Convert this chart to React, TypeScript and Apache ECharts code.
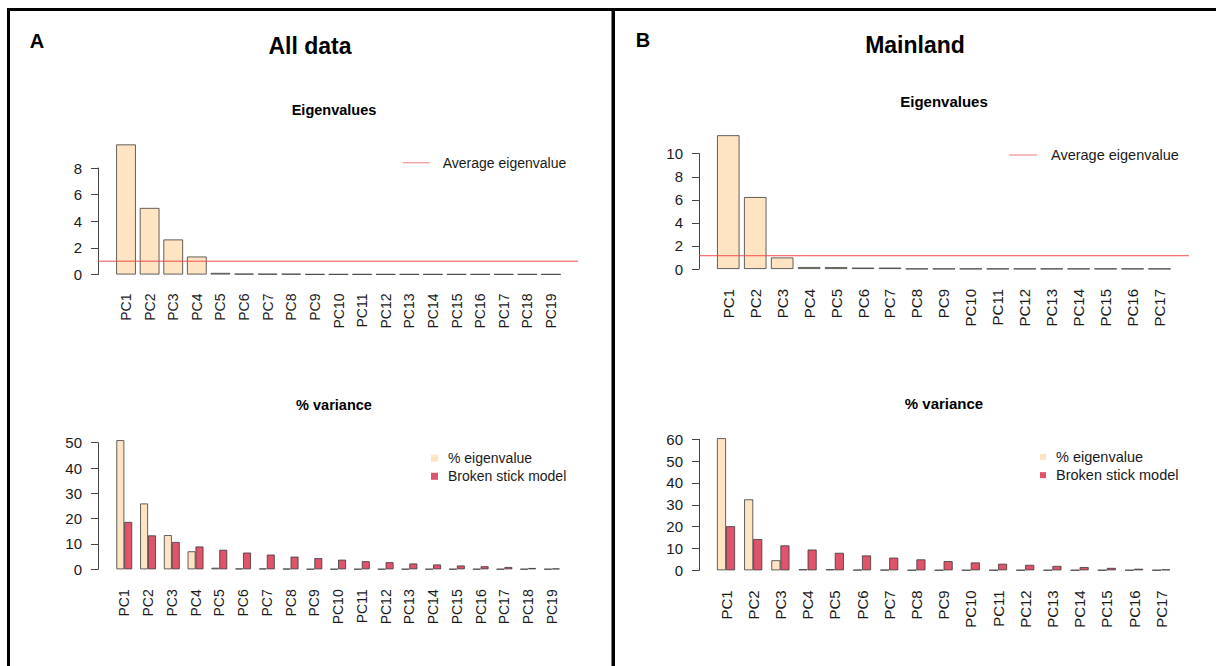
import React, { useEffect, useRef } from 'react';
import * as echarts from 'echarts';

const pcA = ['PC1','PC2','PC3','PC4','PC5','PC6','PC7','PC8','PC9','PC10','PC11','PC12','PC13','PC14','PC15','PC16','PC17','PC18','PC19'];
const eigA = [9.77, 5.0, 2.63, 1.35, 0.12, 0.06, 0.05, 0.05, 0.02, 0.02, 0.02, 0.02, 0.02, 0.02, 0.02, 0.02, 0.02, 0.02, 0.02];
const avgA = 1.0;
const pctA = [51.0, 26.0, 13.5, 7.1, 0.6, 0.3, 0.3, 0.2, 0.1, 0.1, 0.1, 0.1, 0.1, 0.1, 0.1, 0.1, 0.1, 0.1, 0.1];
const bsA = [18.7, 13.4, 10.8, 9.0, 7.7, 6.6, 5.8, 5.0, 4.4, 3.8, 3.2, 2.8, 2.3, 1.9, 1.5, 1.2, 0.9, 0.5, 0.3];

const pcB = ['PC1','PC2','PC3','PC4','PC5','PC6','PC7','PC8','PC9','PC10','PC11','PC12','PC13','PC14','PC15','PC16','PC17'];
const eigB = [11.6, 6.24, 1.0, 0.17, 0.16, 0.12, 0.12, 0.02, 0.02, 0.02, 0.02, 0.02, 0.02, 0.02, 0.02, 0.02, 0.02];
const avgB = 1.15;
const pctB = [60.5, 32.5, 4.6, 0.5, 0.5, 0.2, 0.2, 0.1, 0.1, 0.1, 0.1, 0.1, 0.1, 0.1, 0.1, 0.1, 0.1];
const bsB = [20.2, 14.3, 11.4, 9.5, 8.0, 6.8, 5.8, 5.0, 4.2, 3.6, 3.0, 2.5, 2.0, 1.5, 1.1, 0.7, 0.4];

const FONT = '"Liberation Sans", Arial, Helvetica, sans-serif';
const BISQUE = '#FFE4C4';
const RED = '#DF536B';
const BORDER = '#3a3a3a';
const AVG_LINE = '#F24C4C';
const AVG_LEGEND = '#F3A3AA';

function buildOption() {
  const grid: any[] = [];
  const xAxis: any[] = [];
  const yAxis: any[] = [];
  const series: any[] = [];
  const legend: any[] = [];

  function addChart(cfg: any) {
    const gA = grid.length;
    grid.push({ left: cfg.axisLeft, width: cfg.axisWidth, top: cfg.top, height: cfg.height });
    const gB = grid.length;
    grid.push({ left: cfg.barLeft, width: cfg.barWidth, top: cfg.top, height: cfg.height });
    const xa = xAxis.length;
    xAxis.push({ type: 'value', gridIndex: gA, min: 0, max: 1, show: false });
    xAxis.push({
      type: 'category', gridIndex: gB, data: cfg.cats,
      axisLine: { show: false }, axisTick: { show: false }, splitLine: { show: false },
      axisLabel: { rotate: 90, margin: cfg.labelMargin, fontSize: cfg.fontSize, fontFamily: FONT, color: '#1a1a1a', interval: 0 },
    });
    const ya = yAxis.length;
    yAxis.push({
      type: 'value', gridIndex: gA, min: 0, max: cfg.maxTick, interval: cfg.interval,
      axisLine: { show: true, lineStyle: { color: '#444', width: 1 } },
      axisTick: { show: true, length: 7, lineStyle: { color: '#444' } },
      splitLine: { show: false },
      axisLabel: { margin: 16, fontSize: cfg.tickFont, fontFamily: FONT, color: '#1a1a1a' },
    });
    yAxis.push({ type: 'value', gridIndex: gB, min: 0, max: cfg.maxTick, show: false });

    if (cfg.avg != null) {
      series.push({
        name: 'Average eigenvalue', type: 'line', xAxisIndex: xa, yAxisIndex: ya,
        data: [[0, cfg.avg], [1, cfg.avg]], symbol: 'none',
        lineStyle: { color: AVG_LINE, width: 1 }, itemStyle: { color: AVG_LINE }, silent: true,
      });
    }
    cfg.bars.forEach((b: any) => {
      series.push({
        name: b.name, type: 'bar', xAxisIndex: xa + 1, yAxisIndex: ya + 1,
        data: b.data, clip: false, barWidth: b.barWidth, barGap: '0%',
        itemStyle: { color: b.color, borderColor: BORDER, borderWidth: 0.8 }, silent: true,
      });
    });
    legend.push(cfg.legend);
  }

  addChart({
    cats: pcA, axisLeft: 98, axisWidth: 480, barLeft: 114.2, barWidth: 448.6,
    top: 168, height: 106.5, maxTick: 8, interval: 2, fontSize: 14, tickFont: 15, labelMargin: 19, avg: avgA,
    bars: [{ name: 'Eigenvalue', data: eigA, color: BISQUE, barWidth: '83.3%' }],
    legend: {
      left: 402.7, top: 153.7, padding: 0, itemWidth: 27, itemHeight: 1.5, icon: 'rect',
      data: [{ name: 'Average eigenvalue', itemStyle: { color: AVG_LEGEND, borderWidth: 0 } }],
      textStyle: { fontFamily: FONT, fontSize: 14, color: '#1a1a1a', lineHeight: 18, padding: [0, 0, 0, 8] },
      selectedMode: false,
    },
  });
  addChart({
    cats: pcA, axisLeft: 98, axisWidth: 480, barLeft: 112.4, barWidth: 451.4,
    top: 442.7, height: 126.6, maxTick: 50, interval: 10, fontSize: 14, tickFont: 15, labelMargin: 20,
    bars: [
      { name: '% eigenvalue', data: pctA, color: BISQUE, barWidth: '33.3%' },
      { name: 'Broken stick model', data: bsA, color: RED, barWidth: '33.3%' },
    ],
    legend: {
      left: 431, top: 449.3, padding: 0, orient: 'vertical', itemGap: 0, itemWidth: 7, itemHeight: 7, icon: 'rect',
      data: [
        { name: '% eigenvalue', itemStyle: { color: BISQUE, borderWidth: 0 } },
        { name: 'Broken stick model', itemStyle: { color: RED, borderWidth: 0 } },
      ],
      textStyle: { fontFamily: FONT, fontSize: 14, color: '#1a1a1a', lineHeight: 18, padding: [0, 0, 0, 5] },
      selectedMode: false,
    },
  });
  addChart({
    cats: pcB, axisLeft: 699, axisWidth: 490, barLeft: 714.8, barWidth: 458.2,
    top: 153.7, height: 115.3, maxTick: 10, interval: 2, fontSize: 15, tickFont: 15, labelMargin: 20, avg: avgB,
    bars: [{ name: 'Eigenvalue', data: eigB, color: BISQUE, barWidth: '83.3%' }],
    legend: {
      left: 1009, top: 146, padding: 0, itemWidth: 28, itemHeight: 1.5, icon: 'rect',
      data: [{ name: 'Average eigenvalue', itemStyle: { color: AVG_LEGEND, borderWidth: 0 } }],
      textStyle: { fontFamily: FONT, fontSize: 14.5, color: '#1a1a1a', lineHeight: 18, padding: [0, 0, 0, 9] },
      selectedMode: false,
    },
  });
  addChart({
    cats: pcB, axisLeft: 699, axisWidth: 490, barLeft: 712.4, barWidth: 462.4,
    top: 439.3, height: 131, maxTick: 60, interval: 10, fontSize: 15, tickFont: 15, labelMargin: 20,
    bars: [
      { name: '% eigenvalue', data: pctB, color: BISQUE, barWidth: '33.3%' },
      { name: 'Broken stick model', data: bsB, color: RED, barWidth: '33.3%' },
    ],
    legend: {
      left: 1040, top: 447.7, padding: 0, orient: 'vertical', itemGap: 0, itemWidth: 6, itemHeight: 6, icon: 'rect',
      data: [
        { name: '% eigenvalue', itemStyle: { color: BISQUE, borderWidth: 0 } },
        { name: 'Broken stick model', itemStyle: { color: RED, borderWidth: 0 } },
      ],
      textStyle: { fontFamily: FONT, fontSize: 14.5, color: '#1a1a1a', lineHeight: 18.3, padding: [0, 0, 0, 5] },
      selectedMode: false,
    },
  });

  const txt = (text: string, x: number, y: number, size: number, family = FONT) => ({
    type: 'text', x, y, silent: true,
    style: { text, fill: '#000', font: `bold ${size}px ${family}`, align: 'center', verticalAlign: 'middle' },
  });

  const graphic: any[] = [
    { type: 'rect', shape: { x: 7, y: 8, width: 1209, height: 3 }, style: { fill: '#000' }, silent: true },
    { type: 'rect', shape: { x: 7, y: 8, width: 3, height: 658 }, style: { fill: '#000' }, silent: true },
    { type: 'rect', shape: { x: 611.5, y: 8, width: 3.5, height: 658 }, style: { fill: '#000' }, silent: true },
    txt('A', 37, 41, 20),
    txt('All data', 310, 46, 23),
    txt('Eigenvalues', 334, 110, 14.5),
    txt('% variance', 334, 405, 14.5),
    txt('B', 643, 40, 20),
    txt('Mainland', 915, 45, 23),
    txt('Eigenvalues', 944, 101, 15),
    txt('% variance', 944, 403, 15),
  ];

  return {
    animation: false,
    backgroundColor: '#ffffff',
    grid, xAxis, yAxis, series, legend, graphic,
  };
}

export default function App() {
  const ref = useRef<HTMLDivElement>(null);
  useEffect(() => {
    if (!ref.current) return;
    const chart = echarts.init(ref.current, undefined, { renderer: 'svg' });
    chart.setOption(buildOption() as any);
    return () => chart.dispose();
  }, []);
  return <div ref={ref} style={{ position: 'fixed', left: 0, top: 0, width: 1216, height: 666, background: '#fff' }} />;
}
